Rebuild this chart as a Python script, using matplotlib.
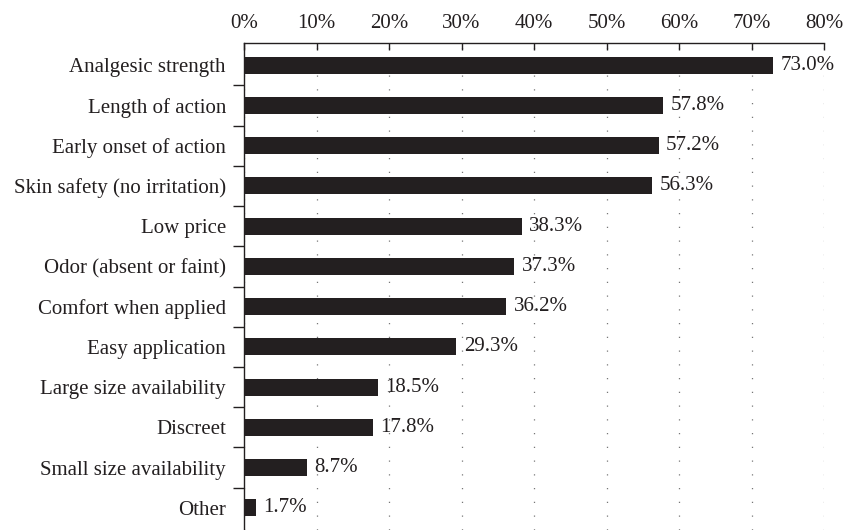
import numpy as np
import matplotlib
matplotlib.use('Agg')
import matplotlib.pyplot as plt
from matplotlib.ticker import FixedLocator

categories = ['Analgesic strength', 'Length of action', 'Early onset of action',
              'Skin safety (no irritation)', 'Low price', 'Odor (absent or faint)',
              'Comfort when applied', 'Easy application', 'Large size availability',
              'Discreet', 'Small size availability', 'Other']
values = [73.0, 57.8, 57.2, 56.3, 38.3, 37.3, 36.2, 29.3, 18.5, 17.8, 8.7, 1.7]
xticks = [0, 10, 20, 30, 40, 50, 60, 70, 80]

plt.rcParams['font.family'] = ['Liberation Serif', 'DejaVu Serif']
plt.rcParams['font.size'] = 15

fig = plt.figure(figsize=(8.52, 5.30), dpi=100)
ax = fig.add_axes([244 / 852, 0.0, 580 / 852, 1 - 43 / 530])

y = np.arange(len(categories))
ax.barh(y, values, height=0.42, color='#231f20', zorder=3)
for yi, v in zip(y, values):
    ax.text(v + 1.0, yi, f'{v:.1f}%', va='center', ha='left', fontsize=15, color='#231f20')

ax.set_xlim(0, 80)
ax.set_ylim(len(categories) - 0.45, -0.55)
ax.xaxis.tick_top()
ax.set_xticks(xticks)
ax.set_xticklabels([f'{t}%' for t in xticks])
ax.tick_params(axis='x', direction='in', length=5, width=1, pad=7, colors='#231f20',
               labelsize=15)

ax.set_yticks(y)
ax.set_yticklabels(categories)
ax.yaxis.set_minor_locator(FixedLocator(np.arange(len(categories) - 1) + 0.5))
ax.tick_params(axis='y', which='major', length=0, pad=13, colors='#231f20')
ax.tick_params(axis='y', which='minor', length=8, width=1, direction='out', colors='#231f20')

for s in ['right', 'bottom']:
    ax.spines[s].set_visible(False)
for s in ['top', 'left']:
    ax.spines[s].set_linewidth(1)
    ax.spines[s].set_color('#231f20')

ax.grid(axis='x', linestyle=(0, (1, 10)), color='#777777', linewidth=0.9, zorder=0)

fig.savefig('out.png', dpi=100)
